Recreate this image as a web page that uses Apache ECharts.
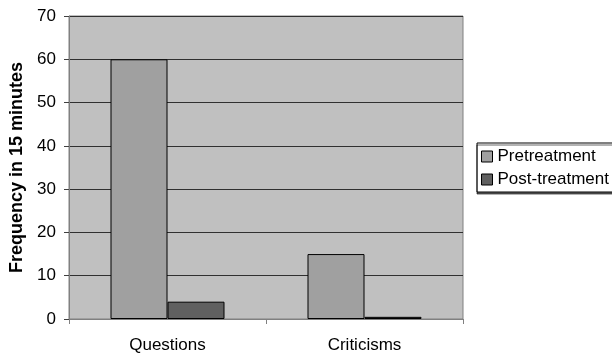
<!DOCTYPE html>
<html>
<head>
<meta charset="utf-8">
<script src="https://cdn.jsdelivr.net/npm/echarts@6/dist/echarts.min.js"></script>
<style>
  html, body { margin: 0; padding: 0; background: #ffffff; }
  #chart { width: 612px; height: 355px; }
</style>
</head>
<body>
<div id="chart"></div>
<script>
// Behaviour counts per 15-minute observation, before and after treatment
const categories = ['Questions', 'Criticisms'];
const pretreatment = [60, 15];
const postTreatment = [4, 0.5];
const yTicks = { min: 0, max: 70, interval: 10 };

const FONT = '"Liberation Sans", Arial, sans-serif';

const chart = echarts.init(document.getElementById('chart'), null, { renderer: 'canvas' });

chart.setOption({
  animation: false,
  backgroundColor: '#ffffff',
  grid: {
    left: 68, right: 149, top: 16, bottom: 36,
    show: true,
    backgroundColor: '#c0c0c0',
    borderColor: '#808080',
    borderWidth: 1
  },
  legend: {
    orient: 'vertical',
    left: 477, top: 143,
    padding: [5, 40, 4, 4],
    itemWidth: 11, itemHeight: 11,
    itemGap: 6,
    backgroundColor: '#ffffff',
    borderColor: '#000000',
    borderWidth: 1,
    shadowColor: 'rgba(0,0,0,0.6)',
    shadowOffsetY: 2,
    shadowBlur: 0,
    textStyle: { fontFamily: FONT, fontSize: 17, color: '#000000' },
    icon: 'rect',
    itemStyle: { borderColor: '#000000', borderWidth: 1 },
    data: ['Pretreatment', 'Post-treatment']
  },
  xAxis: {
    type: 'category',
    data: categories,
    axisLine: { show: true, lineStyle: { color: '#808080', width: 1 } },
    axisTick: { show: true, length: 5, lineStyle: { color: '#808080' } },
    axisLabel: { fontFamily: FONT, fontSize: 17, color: '#000000', margin: 18 },
    splitLine: { show: false }
  },
  yAxis: {
    type: 'value',
    min: yTicks.min, max: yTicks.max, interval: yTicks.interval,
    name: 'Frequency in 15 minutes',
    nameLocation: 'middle',
    nameGap: 43,
    nameTextStyle: { fontFamily: FONT, fontSize: 18, fontWeight: 'bold', color: '#000000' },
    axisLine: { show: true, lineStyle: { color: '#808080', width: 1 } },
    axisTick: { show: true, length: 5, lineStyle: { color: '#404040' } },
    axisLabel: { fontFamily: FONT, fontSize: 17, color: '#000000', margin: 13 },
    splitLine: { show: true, lineStyle: { color: '#303030', width: 1 } }
  },
  series: [
    {
      name: 'Pretreatment',
      type: 'bar',
      data: pretreatment,
      barWidth: 57,
      barGap: '0%',
      itemStyle: { color: '#a0a0a0', borderColor: '#000000', borderWidth: 1 }
    },
    {
      name: 'Post-treatment',
      type: 'bar',
      data: postTreatment,
      barWidth: 57,
      barGap: '0%',
      itemStyle: { color: '#606060', borderColor: '#000000', borderWidth: 1 }
    }
  ]
});
</script>
</body>
</html>
